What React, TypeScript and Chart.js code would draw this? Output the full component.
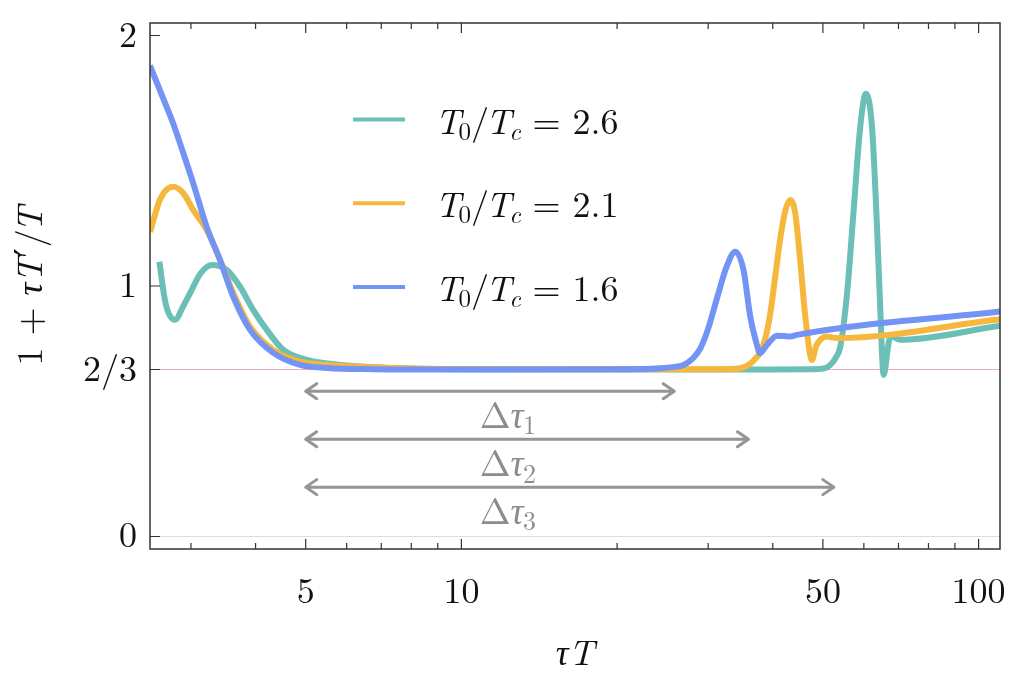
import React, { useEffect, useRef } from "react";
import { Chart, registerables } from "chart.js";

Chart.register(...registerables);

const FONT = '"Latin Modern Roman", "Liberation Serif", serif';
const PRIME_FONT = '"DejaVu Serif", serif';

// T0/Tc for each curve, legend order
const seriesRatios = ["2.6", "2.1", "1.6"];
const seriesColors = ["#6bbfb6", "#f5b83d", "#7393f5"];

// T0/Tc = 2.6
const tealX = [2.606, 2.68, 2.794, 2.9, 2.988, 3.13, 3.291, 3.518, 3.733, 3.96, 4.205, 4.527, 5.024, 5.827, 6.757, 8, 10, 20, 30, 40, 48, 50.5, 51.68, 53.0, 54.03, 55.68, 57.34, 59.04, 60.55, 62.22, 63.62, 64.56, 65.51, 66.99, 67.6, 70.57, 110];
const tealY = [1.097, 0.93, 0.865, 0.92, 0.971, 1.05, 1.084, 1.064, 0.997, 0.904, 0.825, 0.745, 0.705, 0.685, 0.676, 0.671, 0.668, 0.667, 0.667, 0.667, 0.668, 0.672, 0.685, 0.715, 0.758, 0.971, 1.303, 1.635, 1.768, 1.635, 1.236, 0.904, 0.645, 0.772, 0.8, 0.785, 0.841];

// T0/Tc = 2.1
const orangeX = [2.5, 2.62, 2.773, 2.9, 3.032, 3.218, 3.415, 3.624, 3.903, 4.33, 4.877, 5.492, 6.757, 8, 10, 20, 30, 34, 35.11, 36.18, 37.0, 37.83, 38.69, 39.56, 40.45, 41.36, 42.29, 43.24, 44.21, 45.2, 46.22, 47.63, 48.5, 49.42, 50.92, 53.24, 110];
const orangeY = [1.216, 1.35, 1.396, 1.37, 1.303, 1.223, 1.104, 0.971, 0.838, 0.745, 0.698, 0.685, 0.676, 0.671, 0.669, 0.668, 0.668, 0.67, 0.675, 0.69, 0.71, 0.735, 0.79, 0.89, 1.04, 1.19, 1.3, 1.343, 1.29, 1.1, 0.88, 0.705, 0.76, 0.785, 0.798, 0.792, 0.867];

// T0/Tc = 1.6
const blueX = [2.5, 2.62, 2.773, 2.9, 3.032, 3.218, 3.415, 3.624, 3.903, 4.33, 4.877, 5.492, 6.757, 8, 10, 20, 24.23, 26.0, 26.88, 28.0, 28.96, 30.0, 31.19, 32.61, 33.84, 35.11, 36.18, 37.0, 37.83, 38.5, 39.25, 40.75, 42.0, 43.24, 44.56, 110];
const blueY = [1.88, 1.775, 1.648, 1.53, 1.409, 1.236, 1.104, 0.956, 0.825, 0.733, 0.685, 0.673, 0.668, 0.667, 0.667, 0.668, 0.672, 0.678, 0.685, 0.71, 0.75, 0.83, 0.95, 1.08, 1.137, 1.064, 0.878, 0.79, 0.732, 0.75, 0.772, 0.801, 0.8, 0.798, 0.805, 0.898];

const xMajorTicks = [5, 10, 50, 100];
const xMinorTicks = [3, 4, 6, 7, 8, 9, 20, 30, 40, 60, 70, 80, 90];
const yTicks = [0, 2 / 3, 1, 2];
const yTickLabels = ["0", "2/3", "1", "2"];

// the three Δτ arrows
const arrowFrom = 5;
const arrowTo = [25.8, 35.9, 52.5];
const arrowLevel = [0.58, 0.388, 0.197];
const arrowLabelX = 12.3;

// t: text, it: italic, sub: subscript, k: kern before (em), up: raise (em), f: font family
type Seg = { t: string; it?: boolean; sub?: boolean; k?: number; up?: number; f?: string };

const segFont = (s: Seg, size: number) =>
  `${s.it ? "italic " : ""}${s.sub ? Math.round(size * 0.7) : size}px ${s.f ?? FONT}`;

function richWidth(ctx: CanvasRenderingContext2D, segs: Seg[], size: number) {
  let w = 0;
  for (const s of segs) {
    ctx.font = segFont(s, size);
    w += ctx.measureText(s.t).width + (s.k ?? 0) * size;
  }
  return w;
}

function drawRich(ctx: CanvasRenderingContext2D, segs: Seg[], x: number, y: number, size: number) {
  ctx.textAlign = "left";
  ctx.textBaseline = "alphabetic";
  let cx = x;
  for (const s of segs) {
    ctx.font = segFont(s, size);
    cx += (s.k ?? 0) * size;
    const dy = (s.sub ? size * 0.17 : 0) - (s.up ?? 0) * size;
    ctx.fillText(s.t, cx, y + dy);
    cx += ctx.measureText(s.t).width;
  }
}

const decorations = {
  id: "decorations",
  afterDatasetsDraw(chart: Chart) {
    const { ctx, chartArea } = chart;
    const xs = chart.scales.x;
    const ys = chart.scales.y;
    ctx.save();

    // arrows + labels
    ctx.strokeStyle = "#959595";
    ctx.fillStyle = "#8c8c8c";
    ctx.lineWidth = 3;
    ctx.lineCap = "round";
    ctx.lineJoin = "round";
    arrowTo.forEach((end, i) => {
      const x0 = xs.getPixelForValue(arrowFrom);
      const x1 = xs.getPixelForValue(end);
      const yy = ys.getPixelForValue(arrowLevel[i]);
      ctx.beginPath();
      ctx.moveTo(x0, yy);
      ctx.lineTo(x1, yy);
      ctx.moveTo(x0 + 11, yy - 7.5);
      ctx.lineTo(x0, yy);
      ctx.lineTo(x0 + 11, yy + 7.5);
      ctx.moveTo(x1 - 11, yy - 7.5);
      ctx.lineTo(x1, yy);
      ctx.lineTo(x1 - 11, yy + 7.5);
      ctx.stroke();
      const segs: Seg[] = [{ t: "Δ" }, { t: "τ", it: true }, { t: String(i + 1), sub: true, k: -0.02 }];
      const w = richWidth(ctx, segs, 37);
      drawRich(ctx, segs, xs.getPixelForValue(arrowLabelX) - w / 2, yy + 37, 37);
    });

    // legend
    ctx.fillStyle = "#111111";
    chart.data.datasets.forEach((ds: any, i: number) => {
      const yy = chartArea.top + 96.5 + i * 83.7;
      ctx.strokeStyle = ds.borderColor;
      ctx.lineWidth = 4;
      ctx.lineCap = "butt";
      ctx.beginPath();
      ctx.moveTo(chartArea.left + 203, yy);
      ctx.lineTo(chartArea.left + 255, yy);
      ctx.stroke();
      const segs: Seg[] = [
        { t: "T", it: true },
        { t: "0", sub: true, k: -0.06 },
        { t: "/" },
        { t: "T", it: true, k: -0.1 },
        { t: "c", it: true, sub: true, k: -0.06 },
        { t: " = " + seriesRatios[i] },
      ];
      drawRich(ctx, segs, chartArea.left + 285, yy + 14, 36);
    });
    ctx.restore();
  },
  afterDraw(chart: Chart) {
    const { ctx, chartArea } = chart;
    const { left, right, top, bottom } = chartArea;
    const xs = chart.scales.x;
    const ys = chart.scales.y;
    ctx.save();
    ctx.strokeStyle = "#333333";
    ctx.lineWidth = 1.5;
    ctx.strokeRect(left, top, right - left, bottom - top);

    ctx.lineWidth = 1.2;
    ctx.beginPath();
    const tick = (v: number, len: number) => {
      const px = xs.getPixelForValue(v);
      ctx.moveTo(px, bottom);
      ctx.lineTo(px, bottom - len);
      ctx.moveTo(px, top);
      ctx.lineTo(px, top + len);
    };
    xMajorTicks.forEach((v) => tick(v, 10));
    xMinorTicks.forEach((v) => tick(v, 6));
    yTicks.forEach((v) => {
      const py = ys.getPixelForValue(v);
      ctx.moveTo(left, py);
      ctx.lineTo(left + 10, py);
    });
    ctx.stroke();

    // axis titles
    ctx.fillStyle = "#111111";
    const xt: Seg[] = [{ t: "τT", it: true }];
    const xw = richWidth(ctx, xt, 36);
    drawRich(ctx, xt, (left + right) / 2 - xw / 2, 665, 36);

    const yt: Seg[] = [
      { t: "1 + " },
      { t: "τT", it: true },
      { t: "′", f: PRIME_FONT, up: 0.05, k: 0.02 },
      { t: "/", k: 0.02 },
      { t: "T", it: true, k: -0.08 },
    ];
    const yw = richWidth(ctx, yt, 36);
    ctx.translate(30, (top + bottom) / 2);
    ctx.rotate(-Math.PI / 2);
    drawRich(ctx, yt, -yw / 2, 12, 36);
    ctx.restore();
  },
};

const App: React.FC = () => {
  const canvasRef = useRef<HTMLCanvasElement | null>(null);

  useEffect(() => {
    if (!canvasRef.current) return;
    const pts = (xs: number[], ys: number[]) => xs.map((x, i) => ({ x, y: ys[i] }));
    const chart = new Chart(canvasRef.current, {
      type: "line",
      data: {
        datasets: [
          { label: seriesRatios[0], data: pts(tealX, tealY), borderColor: seriesColors[0], order: 3 },
          { label: seriesRatios[1], data: pts(orangeX, orangeY), borderColor: seriesColors[1], order: 2 },
          { label: seriesRatios[2], data: pts(blueX, blueY), borderColor: seriesColors[2], order: 1 },
        ],
      },
      options: {
        animation: false,
        responsive: true,
        maintainAspectRatio: false,
        layout: { padding: { top: 23, right: 14, left: 0, bottom: 0 } },
        elements: {
          point: { radius: 0 },
          line: { borderWidth: 6, cubicInterpolationMode: "monotone", fill: false },
        },
        plugins: { legend: { display: false }, tooltip: { enabled: false } },
        scales: {
          x: {
            type: "logarithmic",
            min: 2.5,
            max: 110,
            grid: { display: false },
            border: { display: false },
            afterBuildTicks: (s: any) => {
              s.ticks = xMajorTicks.map((v) => ({ value: v }));
            },
            afterFit: (s: any) => {
              s.height = 131;
              s.paddingLeft = 0;
              s.paddingRight = 0;
            },
            ticks: {
              autoSkip: false,
              maxRotation: 0,
              padding: 13,
              color: "#111111",
              font: { family: FONT, size: 36 },
              callback: (v: any) => String(v),
            },
          },
          y: {
            min: -0.05,
            max: 2.05,
            border: { display: false },
            grid: {
              drawTicks: false,
              lineWidth: 1,
              color: (c: any) => {
                const v = c.tick?.value;
                if (v === undefined) return "transparent";
                if (Math.abs(v - 2 / 3) < 1e-6) return "#f0b0b0";
                if (v === 0) return "#dddddd";
                return "transparent";
              },
            },
            afterBuildTicks: (s: any) => {
              s.ticks = yTicks.map((v) => ({ value: v }));
            },
            afterFit: (s: any) => {
              s.width = 150;
              s.paddingTop = 0;
              s.paddingBottom = 0;
            },
            ticks: {
              padding: 13,
              color: "#111111",
              font: { family: FONT, size: 36 },
              callback: (v: any) => {
                const i = yTicks.findIndex((t) => Math.abs(t - v) < 1e-6);
                return i >= 0 ? yTickLabels[i] : "";
              },
            },
          },
        },
      },
      plugins: [decorations as any],
    });
    return () => {
      chart.destroy();
    };
  }, []);

  return (
    <div style={{ position: "absolute", left: 0, top: 0, width: 1014, height: 680, background: "#fff" }}>
      <canvas ref={canvasRef} />
    </div>
  );
};

export default App;
